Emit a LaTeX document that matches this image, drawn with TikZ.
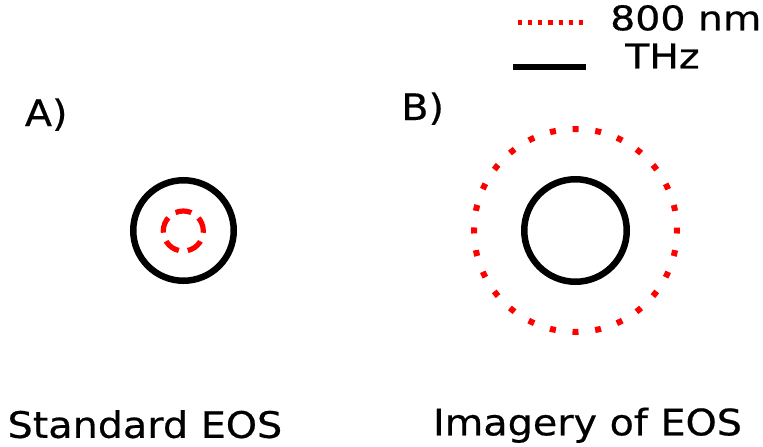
\documentclass[tikz,border=0pt]{standalone}
\usepackage{fontspec}
\newfontfamily\lblfont{DejaVu Sans}[FakeStretch=1.09,FakeBold=0.5]
\newfontfamily\legfont{DejaVu Sans}[FakeStretch=1.16,FakeBold=0.5]
\begin{document}
\begin{tikzpicture}[x=1pt,y=-1pt,
  lbl/.style={inner sep=0pt,anchor=base west,font=\lblfont\fontsize{36.4}{40}\selectfont},
  leg/.style={inner sep=0pt,anchor=base west,font=\legfont\fontsize{34}{38}\selectfont},
  thz/.style={draw=black,line width=6.5pt},
  redline/.style={draw=red,line width=6pt}]
\useasboundingbox (0,0) rectangle (763,447);
% labels
\node[lbl] (la) at (24.7,126) {A)};
\node[lbl] (lb) at (401.1,120) {B)};
\node[lbl] (sa) at (7.4,437.8) {Standard EOS};
\node[lbl] (sb) at (432.8,435.3) {Imagery of EOS};
% legend
\coordinate (r1) at (517.7,22.2);
\coordinate (r2) at (583.3,22.2);
\coordinate (k1) at (513.3,66.8);
\coordinate (k2) at (585.7,66.8);
\draw[draw=red,line width=5pt,dash pattern=on 4.3pt off 5.92pt] (r1) -- (r2);
\draw[draw=black,line width=5.7pt] (k1) -- (k2);
\node[leg] (t1) at (610,30.3) {800 nm};
\node[leg] (t2) at (625,68.3) {THz};
% panel A
\coordinate (ca) at (183.5,230.5);
\draw[thz] (ca) circle[radius=50.25];
\draw[draw=red,line width=5.2pt,dash pattern=on 16.08pt off 9.05pt,dash phase=14.32pt] (183.3,231) circle[radius=20];
% panel B
\coordinate (cb) at (575.5,230.5);
\draw[thz] (cb) circle[radius=51.25];
\draw[redline,dash pattern=on 6pt off 16.78pt,dash phase=3pt] (cb) circle[radius=101.5];
\end{tikzpicture}
\end{document}
